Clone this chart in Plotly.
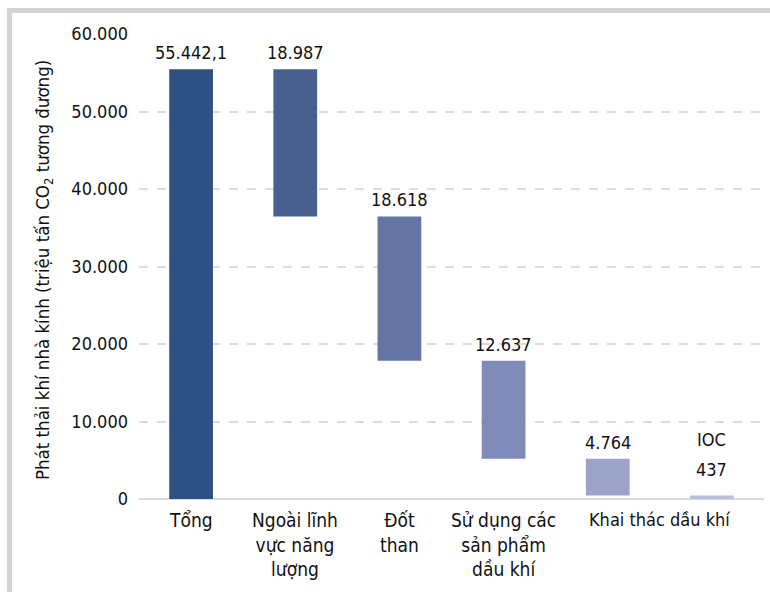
import plotly.graph_objects as go

categories = ["Tổng", "Ngoài lĩnh vực năng lượng", "Đốt than", "Sử dụng các sản phẩm dầu khí", "Khai thác dầu khí", "IOC"]
values = [55442.1, 18987, 18618, 12637, 4764, 437]
value_labels = ["55.442,1", "18.987", "18.618", "12.637", "4.764", "437"]
tick_labels = ["Tổng", "Ngoài lĩnh<br>vực năng<br>lượng", "Đốt<br>than", "Sử dụng các<br>sản phẩm<br>dầu khí"]
group_label = "Khai thác dầu khí"
colors = ["#2e5183", "#48608f", "#6575a3", "#7f8bb8", "#9ca5c9", "#b9c0dd"]

# waterfall bases: total from 0, then decrements; IOC from 0
bases = [0]
running = values[0]
for v in values[1:5]:
    running -= v
    bases.append(running)
bases.append(0)
tops = [b + v for b, v in zip(bases, values)]

FONT = "DejaVu Sans Condensed, Liberation Sans Narrow, sans-serif"
W, H = 770, 592
L, R, T, B = 139, 6, 34, 93
pw, ph = W - L - R, H - T - B

fig = go.Figure()
fig.add_trace(go.Bar(
    x=list(range(len(categories))), y=values, base=bases,
    marker=dict(color=colors, line=dict(width=0)),
    width=0.42, hoverinfo="skip", showlegend=False,
))

ann = []
for i, (t, lab) in enumerate(zip(tops, value_labels)):
    ann.append(dict(x=i, y=t, text=lab, showarrow=False, yanchor="bottom",
                    yshift=4 if i != 5 else 14, font=dict(size=18, color="#111")))
ann.append(dict(x=5, y=tops[5], text="IOC", showarrow=False, yanchor="bottom",
                yshift=44, font=dict(size=18, color="#111")))
for i, lab in enumerate(tick_labels):
    ann.append(dict(x=i, y=0, yref="y", text=lab, showarrow=False, yanchor="top",
                    yshift=-8, font=dict(size=19, color="#111")))
ann.append(dict(x=4.5, y=0, yref="y", text=group_label, showarrow=False, yanchor="top",
                yshift=-8, font=dict(size=18, color="#111")))
ann.append(dict(xref="paper", yref="paper", x=(44 - L) / pw, y=(H - B - 270) / ph,
                xanchor="center", yanchor="middle",
                text="Phát thải khí nhà kính (triệu tấn CO<sub>2</sub> tương đương)",
                textangle=-90, showarrow=False, font=dict(size=18.5, color="#111")))

shapes = [
    dict(type="line", xref="paper", yref="paper", x0=(9.5 - L) / pw, x1=(W + 5 - L) / pw,
         y0=(H - B - 10.5) / ph, y1=(H - B - 10.5) / ph, line=dict(color="#d4d4d4", width=5)),
    dict(type="line", xref="paper", yref="paper", x0=(9.5 - L) / pw, x1=(9.5 - L) / pw,
         y0=(H - B - 8) / ph, y1=(H - B - H - 5) / ph, line=dict(color="#d4d4d4", width=5)),
]

fig.update_layout(
    width=W, height=H, margin=dict(l=L, r=R, t=T, b=B),
    paper_bgcolor="white", plot_bgcolor="white",
    font=dict(family=FONT, size=18, color="#111"),
    separators=",.",
    annotations=ann, shapes=shapes,
    xaxis=dict(range=[-0.5, 5.5], showticklabels=False, showgrid=False, zeroline=False,
               showline=False, ticks=""),
    yaxis=dict(range=[0, 60000], tickvals=[0, 10000, 20000, 30000, 40000, 50000, 60000],
               tickformat=",d", showgrid=True, gridcolor="#dcdcdc", griddash="dash", gridwidth=1.5,
               zeroline=True, zerolinecolor="#d9d9d9", zerolinewidth=2, showline=False,
               ticks="", ticklabelstandoff=10, tickfont=dict(size=18, color="#111")),
)

fig.write_html("out.html")
